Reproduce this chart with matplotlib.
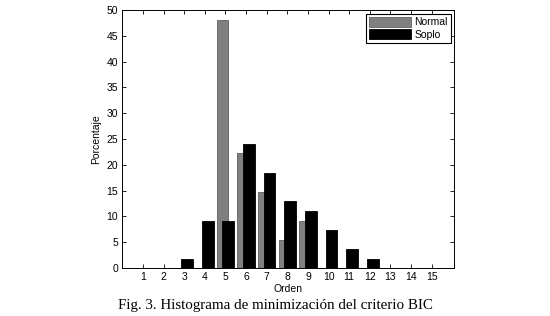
import matplotlib
matplotlib.use("Agg")
import matplotlib.pyplot as plt
import numpy as np

orders = list(range(1, 16))
normal = [0, 0, 0, 0, 48.1, 22.2, 14.8, 5.5, 9.2, 0, 0, 0, 0, 0, 0]
soplo = [0, 0, 1.8, 9.2, 9.2, 24.1, 18.5, 13.0, 11.1, 7.4, 3.7, 1.8, 0, 0, 0]
legend_labels = ["Normal", "Soplo"]
caption = "Fig. 3. Histograma de minimización del criterio BIC"

plt.rcParams['font.family'] = ['Liberation Sans', 'DejaVu Sans']

fig = plt.figure(figsize=(5.5, 3.16), dpi=100)
ax = fig.add_axes([0.2225, 0.152, 0.6036, 0.816])

x = np.array(orders, dtype=float)
w = 0.57
ax.bar(x - 0.14, normal, width=w, color="#808080", edgecolor="#606060",
       linewidth=0.6, label=legend_labels[0], zorder=2)
ax.bar(x + 0.14, soplo, width=w, color="black", edgecolor="black",
       linewidth=0.6, label=legend_labels[1], zorder=3)

ax.set_xlim(0, 16.1)
ax.set_ylim(0, 50)
ax.set_xticks(orders)
ax.set_yticks(np.arange(0, 51, 5))
ax.tick_params(direction="in", top=True, right=True, labelsize=7.5,
               length=3, width=0.6, pad=3)
for s in ax.spines.values():
    s.set_linewidth(0.7)
ax.set_xlabel("Orden", fontsize=7.5, labelpad=1)
ax.set_ylabel("Porcentaje", fontsize=7.5, labelpad=4)

leg = ax.legend(loc="upper right", fontsize=7.5, fancybox=False, framealpha=1,
                edgecolor="black", handlelength=4.0, handleheight=1.1,
                borderaxespad=0.35, labelspacing=0.15, handletextpad=0.3,
                borderpad=0.3)
leg.get_frame().set_linewidth(0.8)

fig.text(0.5, 0.033, caption, ha="center", va="center", fontsize=10.8,
         family=["Liberation Serif", "DejaVu Serif"])

fig.savefig("out.png", dpi=100)
